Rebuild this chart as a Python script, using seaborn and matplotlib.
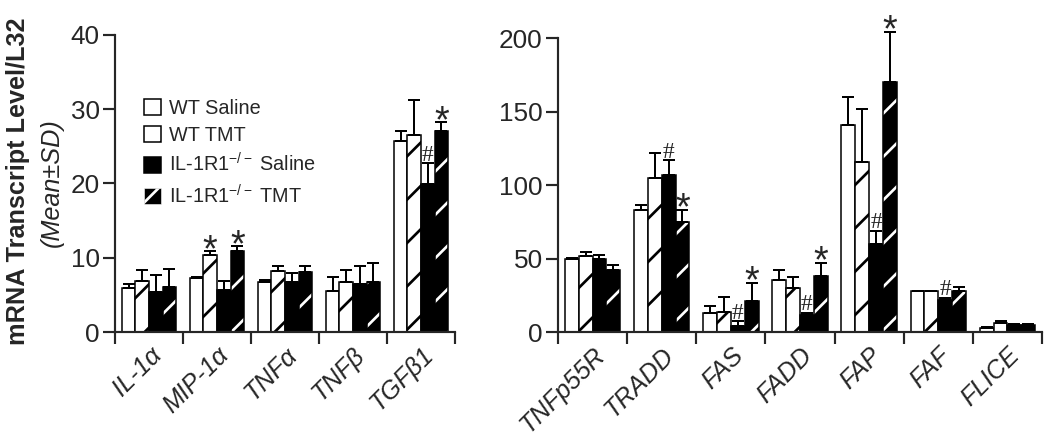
import numpy as np
import pandas as pd
import matplotlib
matplotlib.use("Agg")
import matplotlib.pyplot as plt
import seaborn as sns
from matplotlib.patches import Patch, Rectangle
from matplotlib.container import BarContainer

# ---------------- data ----------------
groups = ["WT Saline", "WT TMT", "IL-1R1 KO Saline", "IL-1R1 KO TMT"]
legend_labels = ["WT Saline", "WT TMT", r"IL-1R1$^{-/-}$ Saline", r"IL-1R1$^{-/-}$ TMT"]

left_genes = ["IL-1α", "MIP-1α", "TNFα", "TNFβ", "TGFβ1"]
left_wt_saline = [5.9, 7.3, 6.7, 5.5, 25.7]
left_wt_saline_sd = [0.6, 0.1, 0.35, 1.9, 1.4]
left_wt_tmt = [6.9, 10.4, 8.2, 6.7, 26.5]
left_wt_tmt_sd = [1.4, 0.5, 0.65, 1.6, 4.8]
left_ko_saline = [5.45, 5.7, 6.8, 6.45, 19.9]
left_ko_saline_sd = [2.25, 1.2, 1.1, 2.45, 2.8]
left_ko_tmt = [6.1, 10.9, 8.1, 6.8, 27.05]
left_ko_tmt_sd = [2.45, 0.7, 0.85, 2.5, 1.25]
left_wt_saline_mark = ["", "", "", "", ""]
left_wt_tmt_mark = ["", "*", "", "", ""]
left_ko_saline_mark = ["", "", "", "", "#"]
left_ko_tmt_mark = ["", "*", "", "", "*"]

right_genes = ["TNFp55R", "TRADD", "FAS", "FADD", "FAP", "FAF", "FLICE"]
right_wt_saline = [50.0, 83.4, 13.2, 35.2, 140.9, 28.0, 3.0]
right_wt_saline_sd = [0.5, 3.4, 4.3, 7.3, 18.9, 0.0, 0.4]
right_wt_tmt = [51.6, 105.2, 13.6, 30.0, 115.7, 28.0, 6.4]
right_wt_tmt_sd = [2.9, 16.8, 10.0, 7.5, 35.9, 0.0, 0.9]
right_ko_saline = [49.8, 106.8, 3.9, 11.8, 59.8, 21.6, 4.5]
right_ko_saline_sd = [2.7, 10.0, 3.4, 1.2, 9.1, 1.6, 0.7]
right_ko_tmt = [42.5, 75.0, 21.1, 38.4, 170.5, 27.7, 4.8]
right_ko_tmt_sd = [3.4, 8.4, 12.5, 8.9, 34.0, 3.0, 0.7]
right_wt_saline_mark = ["", "", "", "", "", "", ""]
right_wt_tmt_mark = ["", "", "", "", "", "", ""]
right_ko_saline_mark = ["", "#", "#", "#", "#", "#", ""]
right_ko_tmt_mark = ["", "*", "*", "*", "*", "", ""]

left_yticks = [0, 10, 20, 30, 40]
right_yticks = [0, 50, 100, 150, 200]

# ---------------- style ----------------
DPI = 130
sns.set_style("ticks")
plt.rcParams["font.family"] = ["Liberation Sans", "DejaVu Sans"]
plt.rcParams["mathtext.fontset"] = "custom"
plt.rcParams["mathtext.rm"] = "Liberation Sans"
plt.rcParams["mathtext.it"] = "Liberation Sans:italic"
plt.rcParams["mathtext.bf"] = "Liberation Sans:bold"
plt.rcParams["hatch.linewidth"] = 1.5
plt.rcParams["axes.linewidth"] = 1.2

fig = plt.figure(figsize=(1050 / DPI, 438 / DPI), dpi=DPI)
ax_l = fig.add_axes([115 / 1050, 1 - 332 / 438, 340 / 1050, 297 / 438])
ax_r = fig.add_axes([558 / 1050, 1 - 332 / 438, 484 / 1050, (332 - 38.3) / 438])

BAR_LW = 0.85


def draw(ax, genes, means, sds, marks, yticks):
    rows = []
    for g, vals in zip(groups, means):
        for gene, v in zip(genes, vals):
            rows.append({"gene": gene, "group": g, "value": v})
    df = pd.DataFrame(rows)
    sns.barplot(data=df, x="gene", y="value", hue="group", order=genes,
                hue_order=groups, errorbar=None,
                palette=["white", "white", "black", "black"], saturation=1,
                edgecolor="black", linewidth=BAR_LW, width=0.8, ax=ax,
                legend=False, zorder=2)
    n = len(genes)
    bar_conts = [c for c in ax.containers if isinstance(c, BarContainer)]
    for hi, cont in enumerate(bar_conts):
        xs, ys, es, ms = [], [], [], []
        for p in cont.patches:
            cx = p.get_x() + p.get_width() / 2
            gi = int(round(cx))
            xs.append(cx)
            ys.append(p.get_height())
            es.append(sds[hi][gi])
            ms.append(marks[hi][gi])
            if hi == 1:
                p.set_hatch("/")
            elif hi == 3:
                p.set_edgecolor("white")
                p.set_hatch("/")
                p.set_linewidth(0)
                ax.add_patch(Rectangle(p.get_xy(), p.get_width(), p.get_height(),
                                       fill=False, edgecolor="black",
                                       linewidth=BAR_LW, zorder=2.5))
        xs = np.array(xs)
        ys = np.array(ys)
        es = np.array(es)
        ax.errorbar(xs, ys, yerr=[np.zeros_like(es), es], fmt="none",
                    ecolor="black", elinewidth=1.1, capsize=3.3, capthick=1.1,
                    clip_on=False, zorder=3)
        for x, y, e, m in zip(xs, ys, es, ms):
            top = y + e
            if m == "*":
                ax.annotate("*", (x, top), xytext=(0, -5.5), textcoords="offset points",
                            ha="center", va="baseline", fontsize=21,
                            annotation_clip=False)
            elif m == "#":
                ax.annotate("#", (x, top), xytext=(0, 1.5), textcoords="offset points",
                            ha="center", va="baseline", fontsize=13,
                            family=["Liberation Serif", "DejaVu Serif"],
                            annotation_clip=False)

    ax.set_xlim(-0.5, n - 0.5)
    ax.set_ylim(yticks[0], yticks[-1])
    ax.set_yticks(yticks)
    ax.set_yticklabels([str(t) for t in yticks], fontsize=14.5)
    ax.set_xticks(range(n))
    ax.set_xticklabels(genes, rotation=45, ha="right", va="top",
                       rotation_mode="anchor", fontsize=14, style="italic")
    ax.set_xticks(np.arange(-0.5, n, 1.0), minor=True)
    ax.tick_params(axis="x", which="major", length=0, pad=6)
    ax.tick_params(axis="x", which="minor", length=6.5, width=1.2, direction="out")
    ax.tick_params(axis="y", length=6.5, width=1.2, direction="out", pad=2)
    ax.set_xlabel("")
    ax.set_ylabel("")
    sns.despine(ax=ax)


draw(ax_l, left_genes,
     [left_wt_saline, left_wt_tmt, left_ko_saline, left_ko_tmt],
     [left_wt_saline_sd, left_wt_tmt_sd, left_ko_saline_sd, left_ko_tmt_sd],
     [left_wt_saline_mark, left_wt_tmt_mark, left_ko_saline_mark, left_ko_tmt_mark],
     left_yticks)
draw(ax_r, right_genes,
     [right_wt_saline, right_wt_tmt, right_ko_saline, right_ko_tmt],
     [right_wt_saline_sd, right_wt_tmt_sd, right_ko_saline_sd, right_ko_tmt_sd],
     [right_wt_saline_mark, right_wt_tmt_mark, right_ko_saline_mark, right_ko_tmt_mark],
     right_yticks)

handles = [
    Patch(facecolor="white", edgecolor="black", linewidth=BAR_LW),
    Patch(facecolor="white", edgecolor="black", linewidth=BAR_LW, hatch="/"),
    Patch(facecolor="black", edgecolor="black", linewidth=BAR_LW),
    Patch(facecolor="black", edgecolor="white", linewidth=0.3, hatch="/"),
]
ax_l.legend(handles, legend_labels, loc="upper left", bbox_to_anchor=(0.085, 0.785),
            frameon=False, fontsize=11, handlelength=0.85, handleheight=0.85,
            handletextpad=0.4, labelspacing=0.4, borderaxespad=0, borderpad=0)

fig.text(18 / 1050, 1 - 181 / 438, "mRNA Transcript Level/L32", rotation=90,
         ha="center", va="center", fontsize=14, fontweight="bold")
fig.text(52 / 1050, 1 - 183 / 438, "(Mean±SD)", rotation=90,
         ha="center", va="center", fontsize=14, style="italic")

fig.savefig("out.png", dpi=DPI)
